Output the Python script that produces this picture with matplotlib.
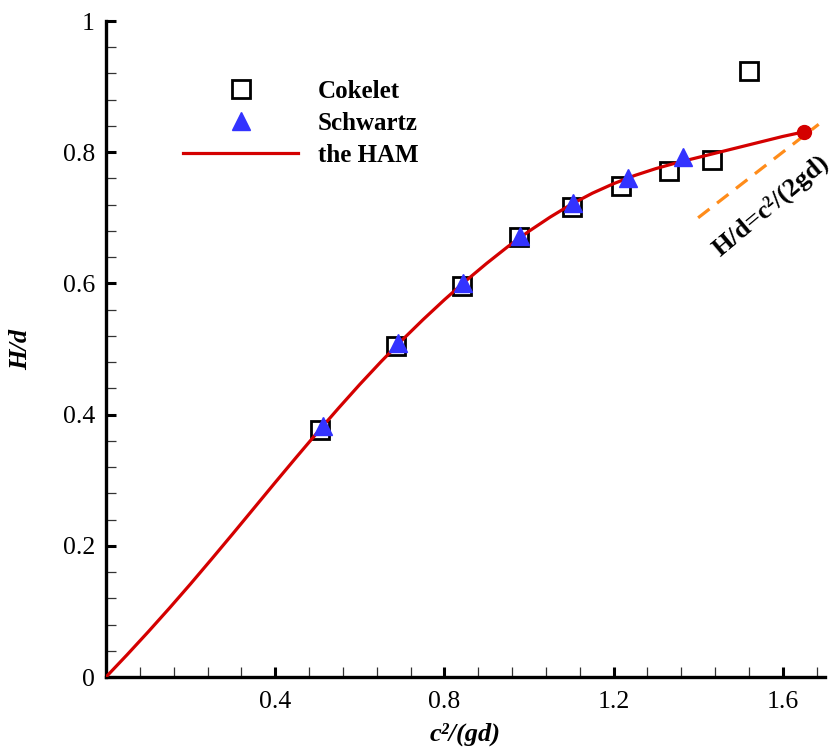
import matplotlib
matplotlib.use("Agg")
import matplotlib.pyplot as plt
import numpy as np
from matplotlib.ticker import FixedLocator, MultipleLocator

plt.rcParams['font.family'] = ['Liberation Serif', 'DejaVu Serif']

# Cokelet data
cokelet_x = [0.506, 0.686, 0.842, 0.976, 1.102, 1.217, 1.331, 1.433, 1.520]
cokelet_y = [0.377, 0.504, 0.596, 0.670, 0.716, 0.748, 0.771, 0.788, 0.924]

# Schwartz data
schwartz_x = [0.513, 0.690, 0.844, 0.979, 1.104, 1.234, 1.364]
schwartz_y = [0.382, 0.509, 0.601, 0.672, 0.723, 0.761, 0.792]

# HAM solution
ham_x = [0.0, 0.05, 0.10, 0.15, 0.20, 0.25, 0.30, 0.35, 0.40, 0.45, 0.50,
         0.55, 0.60, 0.65, 0.70, 0.75, 0.80, 0.85, 0.90, 0.95, 1.00,
         1.05, 1.10, 1.15, 1.20, 1.25, 1.30, 1.35, 1.40, 1.45, 1.50,
         1.55, 1.60, 1.65]
ham_y = [0.0, 0.034, 0.069, 0.105, 0.142, 0.180, 0.2185, 0.2575, 0.2965, 0.335, 0.373,
         0.410, 0.446, 0.4805, 0.5135, 0.545, 0.575, 0.6035, 0.6305, 0.656, 0.6795,
         0.701, 0.7205, 0.7375, 0.752, 0.7645, 0.775, 0.784, 0.792, 0.800, 0.808,
         0.816, 0.824, 0.831]

# limiting line H/d = c^2/(2gd)
limit_x = np.array([1.40, 1.685])
limit_y = limit_x / 2

fig = plt.figure(figsize=(8.37, 7.49), dpi=100)
ax = fig.add_axes([106 / 837, 72 / 749, 719 / 837, 656 / 749])

ax.plot(ham_x, ham_y, color='#d40000', lw=2.3, label='the HAM', zorder=3,
        solid_joinstyle='round')
ax.plot(ham_x[-1], ham_y[-1], 'o', color='#d40000', ms=10, zorder=4)
ax.plot(limit_x, limit_y, color='#ff8c1a', lw=2.3, dashes=(4.5, 3.0), zorder=2)
ax.plot(cokelet_x, cokelet_y, 's', mfc='none', mec='black', mew=2.0, ms=13,
        label='Cokelet', zorder=2)
ax.plot(schwartz_x, schwartz_y, '^', color='#3333ff', ms=13, label='Schwartz', zorder=3)

ax.text(1.572, 0.718, 'H/d=c²/(2gd)', rotation=40, fontsize=19, fontweight='bold',
        ha='center', va='center')

ax.set_xlim(0, 1.7)
ax.set_ylim(0, 1)
ax.xaxis.set_major_locator(FixedLocator([0.4, 0.8, 1.2, 1.6]))
ax.xaxis.set_minor_locator(FixedLocator(np.arange(1, 22) * 0.08))
ax.yaxis.set_major_locator(MultipleLocator(0.2))
ax.yaxis.set_minor_locator(MultipleLocator(0.04))
ax.set_xticklabels(['0.4', '0.8', '1.2', '1.6'])
ax.set_yticks([0, 0.2, 0.4, 0.6, 0.8, 1.0])
ax.set_yticklabels(['0', '0.2', '0.4', '0.6', '0.8', '1'])

for s in ['top', 'right']:
    ax.spines[s].set_visible(False)
for s in ['left', 'bottom']:
    ax.spines[s].set_linewidth(2.4)

ax.tick_params(which='major', direction='in', length=7.5, width=2.2, labelsize=18.5)
ax.tick_params(which='minor', direction='in', length=7, width=0.9, color='#333333')
ax.tick_params(axis='y', which='major', pad=8)
ax.tick_params(axis='x', which='major', pad=10)

ax.set_xlabel('c²/(gd)', fontsize=19, fontweight='bold', style='italic', labelpad=7)
ax.set_ylabel('H/d', fontsize=19, fontweight='bold', style='italic', labelpad=22)

h, l = ax.get_legend_handles_labels()
order = [l.index('Cokelet'), l.index('Schwartz'), l.index('the HAM')]
leg = ax.legend([h[i] for i in order], [l[i] for i in order], loc='upper left',
                bbox_to_anchor=(77 / 719, (677 - 80) / 656), frameon=False,
                prop={'size': 18, 'weight': 'bold'}, handlelength=4.6,
                handletextpad=0.8, labelspacing=0.36, borderpad=0, borderaxespad=0)

fig.savefig('out.png', dpi=100)
